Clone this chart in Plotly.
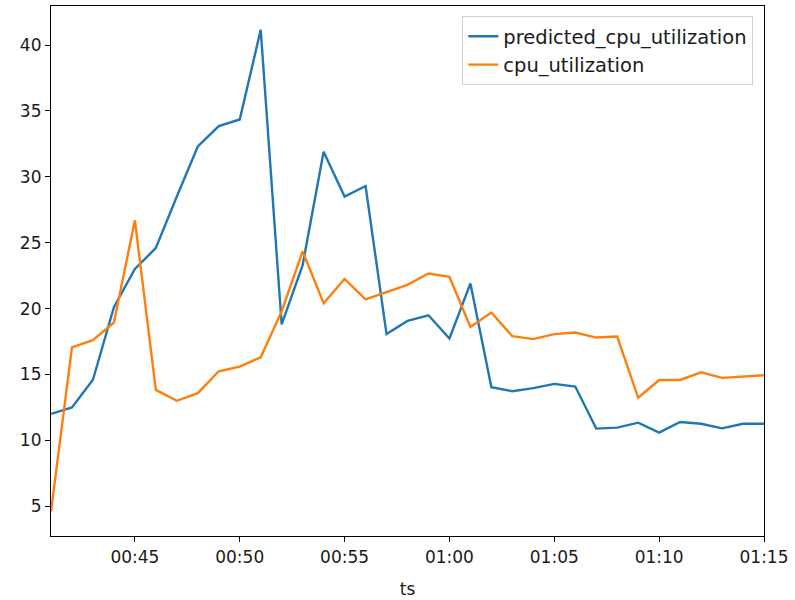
import pandas as pd
import plotly.graph_objects as go

start = "2024-01-01 00:41"
n_points = 35
ts = pd.date_range(start, periods=n_points, freq="1min")

predicted_cpu_utilization = [
    12.0, 12.5, 14.6, 20.1, 23.0, 24.6, 28.5, 32.3, 33.85, 34.35,
    41.15, 18.8, 23.3, 31.9, 28.5, 29.3, 18.06, 19.06, 19.49, 17.73,
    21.9, 14.03, 13.73, 13.96, 14.28, 14.08, 10.89, 10.96, 11.34, 10.58,
    11.39, 11.26, 10.91, 11.26, 11.26,
]
cpu_utilization = [
    4.6, 17.05, 17.6, 18.94, 26.7, 13.83, 13.0, 13.58, 15.24, 15.59,
    16.3, 19.8, 24.34, 20.4, 22.25, 20.7, 21.25, 21.8, 22.66, 22.4,
    18.6, 19.7, 17.9, 17.68, 18.06, 18.18, 17.8, 17.88, 13.23, 14.58,
    14.58, 15.16, 14.74, 14.83, 14.94,
]

x_tick_vals = pd.date_range("2024-01-01 00:45", "2024-01-01 01:15", freq="5min")
x_tick_text = ["00:45", "00:50", "00:55", "01:00", "01:05", "01:10", "01:15"]
y_tick_vals = [5, 10, 15, 20, 25, 30, 35, 40]

font_family = "DejaVu Sans"
text_color = "#1a1a1a"

fig = go.Figure()
fig.add_trace(go.Scatter(x=ts, y=predicted_cpu_utilization, mode="lines",
                         name="predicted_cpu_utilization",
                         line=dict(color="#1f77b4", width=2.4)))
fig.add_trace(go.Scatter(x=ts, y=cpu_utilization, mode="lines",
                         name="cpu_utilization",
                         line=dict(color="#ff7f0e", width=2.4)))

fig.update_layout(
    width=795, height=600,
    margin=dict(l=51, r=31, t=5, b=62),
    paper_bgcolor="white", plot_bgcolor="white",
    font=dict(family=font_family, size=17, color=text_color),
    showlegend=True,
    legend=dict(x=0.985, xanchor="right", y=0.981, yanchor="top",
                bgcolor="rgba(255,255,255,0.85)", bordercolor="#d0d0d0",
                borderwidth=1, font=dict(size=19.5, family=font_family),
                tracegroupgap=0),
    xaxis=dict(
        type="date",
        range=[ts[0], ts[-1]],
        tickvals=list(x_tick_vals), ticktext=x_tick_text,
        ticks="outside", ticklen=5, tickwidth=1.2, tickcolor="black",
        showline=True, linecolor="black", linewidth=1.2, mirror=True,
        showgrid=False, zeroline=False,
        tickfont=dict(size=17),
        title=dict(text="ts", font=dict(size=17), standoff=17),
    ),
    yaxis=dict(
        range=[2.74, 42.96],
        tickvals=y_tick_vals,
        ticks="outside", ticklen=5, tickwidth=1.2, tickcolor="black",
        showline=True, linecolor="black", linewidth=1.2, mirror=True,
        showgrid=False, zeroline=False,
        tickfont=dict(size=17),
    ),
)

fig.write_html("out.html")
